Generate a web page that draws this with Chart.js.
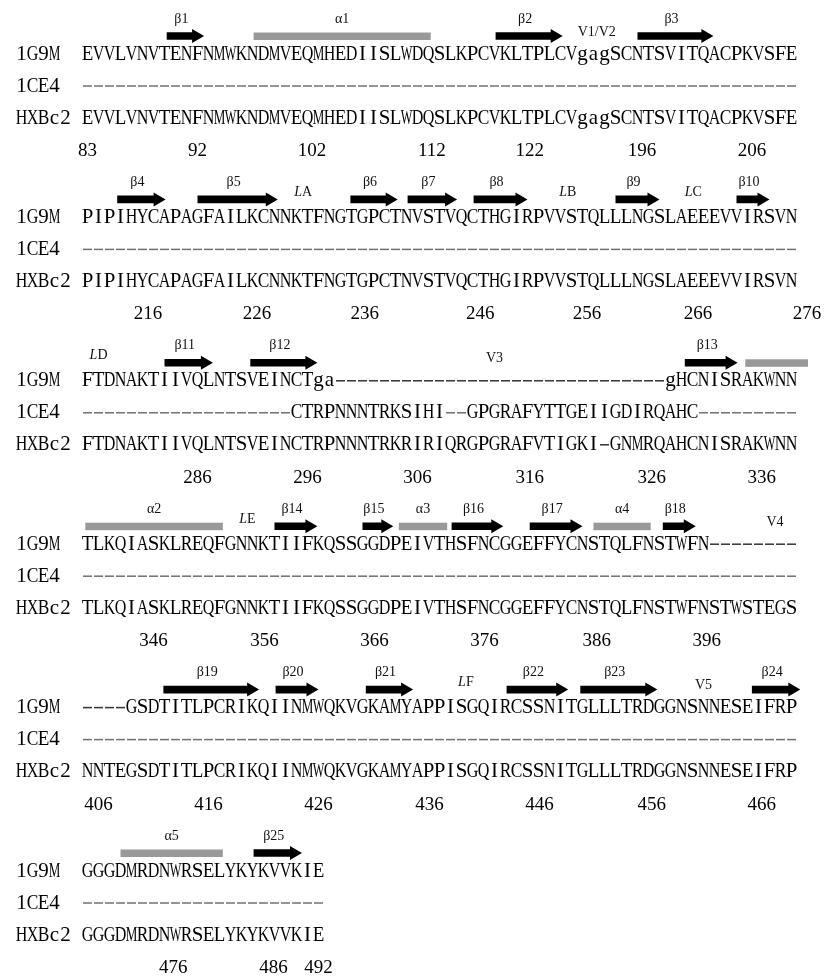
<!DOCTYPE html>
<html>
<head>
<meta charset="utf-8">
<script src="https://cdn.jsdelivr.net/npm/chart.js@4.4.0/dist/chart.umd.min.js"></script>
<style>
  body { margin: 0; background: #fff; }
  canvas { display: block; }
</style>
</head>
<body>
<canvas id="align" width="825" height="977"></canvas>
<script>
// alignment rows, one string per block
const rowNames = ['1G9M', '1CE4', 'HXBc2'];
const seq1G9M = [
  'EVVLVNVTENFNMWKNDMVEQMHEDIISLWDQSLKPCVKLTPLCVgagSCNTSVITQACPKVSFE',
  'PIPIHYCAPAGFAILKCNNKTFNGTGPCTNVSTVQCTHGIRPVVSTQLLLNGSLAEEEVVIRSVN',
  'FTDNAKTIIVQLNTSVEINCTga------------------------------gHCNISRAKWNN',
  'TLKQIASKLREQFGNNKTIIFKQSSGGDPEIVTHSFNCGGEFFYCNSTQLFNSTWFN--------',
  '----GSDTITLPCRIKQIINMWQKVGKAMYAPPISGQIRCSSNITGLLLTRDGGNSNNESEIFRP',
  'GGGDMRDNWRSELYKYKVVKIE'
];
const seq1CE4 = [
  '-----------------------------------------------------------------',
  '-----------------------------------------------------------------',
  '-------------------CTRPNNNTRKSIHI--GPGRAFYTTGEIIGDIRQAHC---------',
  '-----------------------------------------------------------------',
  '-----------------------------------------------------------------',
  '----------------------'
];
const seqHXBc2 = [
  'EVVLVNVTENFNMWKNDMVEQMHEDIISLWDQSLKPCVKLTPLCVgagSCNTSVITQACPKVSFE',
  'PIPIHYCAPAGFAILKCNNKTFNGTGPCTNVSTVQCTHGIRPVVSTQLLLNGSLAEEEVVIRSVN',
  'FTDNAKTIIVQLNTSVEINCTRPNNNTRKRIRIQRGPGRAFVTIGKI-GNMRQAHCNISRAKWNN',
  'TLKQIASKLREQFGNNKTIIFKQSSGGDPEIVTHSFNCGGEFFYCNSTQLFNSTWFNSTWSTEGS',
  'NNTEGSDTITLPCRIKQIINMWQKVGKAMYAPPISGQIRCSSNITGLLLTRDGGNSNNESEIFRP',
  'GGGDMRDNWRSELYKYKVVKIE'
];

// residue numbers under each block and the column they sit under
const numberLabels = [
  [83, 92, 102, 112, 122, 196, 206],
  [216, 226, 236, 246, 256, 266, 276],
  [286, 296, 306, 316, 326, 336],
  [346, 356, 366, 376, 386, 396],
  [406, 416, 426, 436, 446, 456, 466],
  [476, 486, 492]
];
const numberCols = [
  [0.5, 10.5, 20.9, 31.8, 40.7, 50.9, 60.9],
  [6, 15.9, 25.7, 36.2, 45.9, 56, 65.9],
  [10.5, 20.5, 30.5, 40.7, 51.8, 61.8],
  [6.5, 16.6, 26.6, 36.6, 46.8, 56.8],
  [1.5, 11.5, 21.5, 31.6, 41.6, 51.8, 61.8],
  [8.3, 17.4, 21.5]
];

// secondary structure: [block, from, to, label]
const strands = [
  [0, 7.7, 11.1, 'β1'], [0, 37.6, 43.7, 'β2'], [0, 50.5, 57.4, 'β3'],
  [1, 3.2, 7.6, 'β4'], [1, 10.5, 17.8, 'β5'], [1, 24.4, 28.7, 'β6'],
  [1, 29.6, 34.1, 'β7'], [1, 35.6, 40.5, 'β8'], [1, 48.5, 52.5, 'β9'],
  [1, 59.5, 62.5, 'β10'],
  [2, 7.5, 11.9, 'β11'], [2, 15.3, 21.4, 'β12'], [2, 54.8, 59.6, 'β13'],
  [3, 17.5, 21.4, 'β14'], [3, 25.5, 28.3, 'β15'], [3, 33.6, 38.3, 'β16'],
  [3, 40.7, 45.5, 'β17'], [3, 52.8, 55.8, 'β18'],
  [4, 7.4, 16.1, 'β19'], [4, 17.6, 21.5, 'β20'], [4, 25.8, 30.1, 'β21'],
  [4, 38.6, 44.2, 'β22'], [4, 45.3, 52.3, 'β23'], [4, 60.9, 65.3, 'β24'],
  [5, 15.6, 20, 'β25']
];
const helices = [
  [0, 15.6, 31.7, 'α1'],
  [2, 60.3, 66, ''],
  [3, 0.3, 12.8, 'α2'], [3, 28.8, 33.2, 'α3'], [3, 46.5, 51.7, 'α4'],
  [5, 3.5, 12.8, 'α5']
];
// loops (italic L) and variable regions: [block, column, text]
const loopLabels = [
  [1, 20, 'A'], [1, 44.1, 'B'], [1, 55.5, 'C'],
  [2, 1.4, 'D'], [3, 15, 'E'], [4, 34.9, 'F']
];
const regionLabels = [
  [0, 46.8, 'V1/V2'], [2, 37.5, 'V3'], [3, 63, 'V4'], [4, 56.5, 'V5']
];

const CELL = 11, LEFT = 82, W = 825, H = 977;
const BLOCK_Y0 = 53, BLOCK_STEP = 163.4;
const ROW_STEP = 32, NUM_OFF = 98, MARK_OFF = -17, LABEL_OFF = -34;

const seqFont = '21px "Liberation Serif", "DejaVu Serif", serif';
const smallFont = '14px "Liberation Serif", serif';

function drawChar(ctx, ch, x, y) {
  ctx.save();
  ctx.translate(x, y);
  const w = ctx.measureText(ch).width;
  const s = Math.min(1, 11.6 / w);
  ctx.scale(s, 1);
  ctx.fillText(ch, 0, 0);
  ctx.restore();
}

const alignPlugin = {
  id: 'alignPlugin',
  afterDatasetsDraw(chart) {
    const ctx = chart.ctx;
    const xs = chart.scales.x, ys = chart.scales.y;
    const rows = [seq1G9M, seq1CE4, seqHXBc2];
    ctx.save();
    ctx.textBaseline = 'middle';
    ctx.textAlign = 'center';

    for (let b = 0; b < seq1G9M.length; b++) {
      const base = BLOCK_Y0 + b * BLOCK_STEP;

      // row names + residues
      rows.forEach((r, ri) => {
        const y = ys.getPixelForValue(base + ri * ROW_STEP);
        ctx.font = seqFont;
        ctx.fillStyle = '#000';
        const name = rowNames[ri];
        for (let i = 0; i < name.length; i++) {
          drawChar(ctx, name[i], xs.getPixelForValue(i - 6 + 0.5), y + 1);
        }
        const s = r[b];
        for (let i = 0; i < s.length; i++) {
          const x = xs.getPixelForValue(i + 0.5);
          if (s[i] === '-') {
            ctx.strokeStyle = ri === 1 ? '#707070' : '#333';
            ctx.lineWidth = 1.5;
            ctx.beginPath();
            ctx.moveTo(x - 4.5, y + 1);
            ctx.lineTo(x + 4.5, y + 1);
            ctx.stroke();
          } else {
            drawChar(ctx, s[i], x, y + 1);
          }
        }
      });

      // numbering
      ctx.font = '19px "Liberation Serif", serif';
      ctx.fillStyle = '#000';
      numberLabels[b].forEach((n, k) => {
        ctx.fillText(String(n), xs.getPixelForValue(numberCols[b][k]), ys.getPixelForValue(base + NUM_OFF));
      });
    }

    // helices as grey bars
    helices.forEach(([b, a, e, lab]) => {
      const base = BLOCK_Y0 + b * BLOCK_STEP;
      const x0 = xs.getPixelForValue(a), x1 = xs.getPixelForValue(e);
      const y = ys.getPixelForValue(base + MARK_OFF);
      ctx.fillStyle = '#999';
      ctx.fillRect(x0, y - 3.5, x1 - x0, 7.5);
      if (lab) {
        ctx.fillStyle = '#111';
        ctx.font = smallFont;
        ctx.fillText(lab, (x0 + x1) / 2, ys.getPixelForValue(base + LABEL_OFF));
      }
    });

    // strands as black arrows
    strands.forEach(([b, a, e, lab]) => {
      const base = BLOCK_Y0 + b * BLOCK_STEP;
      const x0 = xs.getPixelForValue(a), x1 = xs.getPixelForValue(e);
      const y = ys.getPixelForValue(base + MARK_OFF);
      const head = 12;
      ctx.fillStyle = '#000';
      ctx.beginPath();
      ctx.moveTo(x0, y - 3.8);
      ctx.lineTo(x1 - head, y - 3.8);
      ctx.lineTo(x1 - head, y - 7);
      ctx.lineTo(x1, y);
      ctx.lineTo(x1 - head, y + 7);
      ctx.lineTo(x1 - head, y + 3.8);
      ctx.lineTo(x0, y + 3.8);
      ctx.closePath();
      ctx.fill();
      ctx.fillStyle = '#111';
      ctx.font = smallFont;
      ctx.fillText(lab, (x0 + x1 - head) / 2 + 2, ys.getPixelForValue(base + LABEL_OFF));
    });

    // loop labels: italic L + letter
    loopLabels.forEach(([b, c, letter]) => {
      const base = BLOCK_Y0 + b * BLOCK_STEP;
      const x = xs.getPixelForValue(c);
      const y = ys.getPixelForValue(base - 24);
      ctx.fillStyle = '#111';
      ctx.textAlign = 'right';
      ctx.font = 'italic ' + smallFont;
      ctx.fillText('L', x, y);
      ctx.textAlign = 'left';
      ctx.font = smallFont;
      ctx.fillText(letter, x, y);
      ctx.textAlign = 'center';
    });

    // variable region labels
    ctx.font = smallFont;
    ctx.fillStyle = '#111';
    regionLabels.forEach(([b, c, t]) => {
      const base = BLOCK_Y0 + b * BLOCK_STEP;
      ctx.fillText(t, xs.getPixelForValue(c), ys.getPixelForValue(base - 21));
    });

    ctx.restore();
  }
};

new Chart(document.getElementById('align'), {
  type: 'scatter',
  data: { datasets: [] },
  options: {
    responsive: false,
    animation: false,
    layout: { padding: 0 },
    plugins: { legend: { display: false }, tooltip: { enabled: false } },
    scales: {
      x: { type: 'linear', display: false, min: -LEFT / CELL, max: (W - LEFT) / CELL },
      y: { type: 'linear', display: false, min: 0, max: H, reverse: true }
    }
  },
  plugins: [alignPlugin]
});
</script>
</body>
</html>
